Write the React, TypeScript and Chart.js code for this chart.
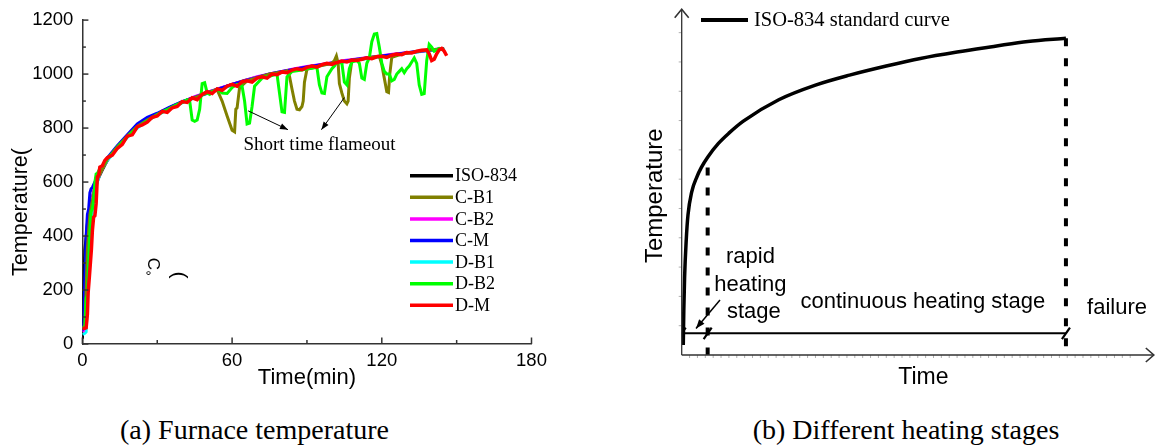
import { useEffect, useRef } from "react";
import { Chart, registerables } from "chart.js";

Chart.register(...registerables);

const SANS = "'Liberation Sans', Arial, sans-serif";
const SERIF = "'Liberation Serif', 'Times New Roman', serif";

// ---------------- panel (a): furnace temperature ----------------
const X_MAX = 180;
const X_STEP = 60;
const X_MINOR = 30;
const Y_MAX = 1200;
const Y_STEP = 200;
const Y_MINOR = 100;

const isoTime = [0, 1, 2, 3, 4, 5, 6, 7, 8, 9, 10, 12, 14, 16, 18, 20, 25, 30, 35, 40, 45, 50, 55, 60, 65, 70, 75, 80, 85, 90, 95, 100, 105, 110, 115, 120, 125, 130, 135, 140, 145];
const isoTemp = [20, 349, 445, 502, 544, 576, 603, 626, 645, 663, 680, 708, 732, 752, 771, 788, 825, 852, 876, 897, 915, 932, 946, 962, 976, 988, 999, 1008, 1017, 1025, 1033, 1040, 1047, 1053, 1060, 1066, 1072, 1078, 1084, 1089, 1094];

const midTime = [0, 0.5, 1, 1.5, 2, 2.5, 3, 3.5, 4, 5, 6, 7, 8, 10, 14, 18, 22, 26, 30, 35, 40, 45, 50, 55, 60, 65, 70, 75, 80, 85, 90, 95, 100, 105, 110, 115, 120, 125, 130, 135, 140, 145];
const cmTemp = [50, 80, 250, 400, 480, 500, 560, 575, 580, 600, 615, 640, 655, 690, 735, 775, 815, 840, 855, 878, 898, 914, 930, 946, 962, 975, 988, 1000, 1010, 1018, 1026, 1034, 1041, 1048, 1055, 1061, 1067, 1073, 1079, 1085, 1090, 1094];
const cb2Temp = [45, 50, 100, 200, 300, 380, 450, 500, 540, 590, 610, 630, 650, 685, 730, 772, 808, 830, 852, 874, 896, 916, 932, 948, 962, 976, 990, 1000, 1010, 1020, 1028, 1035, 1042, 1050, 1056, 1062, 1068, 1074, 1079, 1084, 1090, 1093];
const db1Temp = [35, 38, 40, 45, 150, 300, 400, 450, 480, 560, 600, 630, 650, 680, 725, 765, 800, 828, 848, 872, 893, 912, 928, 944, 958, 972, 985, 997, 1006, 1015, 1024, 1032, 1039, 1046, 1052, 1059, 1065, 1071, 1077, 1083, 1088, 1092];

const cb1Time = [0, 1, 1.5, 2, 2.5, 3, 4, 5, 6, 7, 8, 10, 14, 18, 22, 26, 30, 35, 40, 45, 50, 54, 56, 58, 60, 61, 61.5, 62, 63, 66, 70, 75, 80, 82, 83, 84, 85, 86, 87, 88, 88.5, 89, 90, 95, 100, 101, 101.8, 102.5, 103, 104, 105, 106, 106.5, 107, 108, 112, 116, 119, 120, 121, 122, 122.7, 123.2, 124, 128, 132, 136, 140, 145];
const cb1Temp = [55, 70, 200, 350, 420, 480, 530, 580, 610, 630, 648, 685, 730, 770, 806, 830, 850, 873, 895, 913, 930, 942, 900, 845, 792, 786, 870, 875, 950, 975, 987, 1000, 1008, 1012, 992, 945, 900, 870, 868, 880, 900, 970, 1018, 1030, 1040, 1050, 1067, 1040, 965, 930, 900, 890, 900, 985, 1050, 1056, 1062, 1066, 1035, 985, 935, 932, 1000, 1062, 1074, 1080, 1086, 1090, 1094];

const db2Time = [0, 1, 1.5, 2, 2.5, 3, 3.5, 4, 4.5, 5, 5.5, 6, 7, 8, 9, 10, 12, 14, 16, 18, 20, 22, 24, 26, 28, 30, 32, 34, 36, 38, 40, 42, 43, 44, 45, 46, 47, 48, 49, 50, 51, 52, 54, 56, 58, 60, 62, 63, 64, 65, 66, 67, 68, 69, 70, 72, 74, 76, 78, 79, 80, 81, 82, 84, 86, 88, 90, 92, 94, 95, 96, 97, 98, 100, 101, 102, 104, 105, 106, 107, 108, 110, 111, 112, 113, 114, 115, 116, 117, 118, 119, 120, 121, 122, 123, 124, 125, 126, 127, 128, 129, 130, 131, 132, 133, 134, 135, 136, 137, 138, 139, 140, 141, 142, 143, 144, 145];
const db2Temp = [60, 65, 170, 180, 300, 420, 490, 500, 530, 600, 630, 632, 650, 660, 672, 688, 705, 730, 748, 768, 785, 805, 815, 828, 838, 850, 860, 868, 878, 888, 895, 905, 900, 830, 825, 830, 870, 965, 968, 930, 925, 935, 945, 930, 928, 950, 962, 958, 955, 900, 815, 818, 880, 955, 965, 985, 990, 995, 1000, 930, 860, 858, 990, 1010, 1012, 1015, 1020, 1022, 1025, 960, 930, 928, 990, 1020, 1030, 1045, 1040, 970, 960, 1020, 1045, 1050, 1040, 985, 980, 1040, 1060, 1120, 1148, 1150, 1100, 1040, 1010, 1000, 1000, 975, 980, 1000, 1010, 1020, 1005, 1020, 1030, 1045, 1060, 1040, 960, 925, 928, 1050, 1110, 1100, 1085, 1090, 1095, 1092, 1090];

const dmTime = [0, 1, 1.5, 2, 2.3, 2.8, 3.2, 3.6, 4, 4.5, 5, 5.5, 6, 6.5, 7, 8, 9, 10, 12, 14, 16, 18, 20, 22, 24, 26, 28, 30, 32, 34, 36, 38, 40, 42, 44, 46, 48, 50, 52, 54, 56, 58, 60, 62, 64, 66, 68, 70, 72, 74, 76, 78, 80, 82, 84, 86, 88, 90, 92, 94, 96, 98, 100, 102, 104, 106, 108, 110, 112, 114, 116, 118, 120, 122, 124, 126, 128, 130, 132, 134, 136, 138, 139, 140, 141, 142, 143, 144, 145, 146];
const dmTemp = [58, 58, 60, 110, 190, 250, 300, 350, 420, 470, 475, 520, 620, 625, 655, 660, 680, 690, 700, 725, 740, 770, 775, 805, 812, 822, 840, 845, 862, 858, 875, 880, 898, 895, 912, 905, 925, 935, 928, 945, 940, 955, 962, 955, 972, 975, 970, 985, 990, 985, 1000, 998, 1008, 1005, 1015, 1020, 1016, 1025, 1030, 1026, 1035, 1040, 1036, 1043, 1048, 1045, 1052, 1050, 1055, 1060, 1057, 1064, 1066, 1062, 1070, 1074, 1072, 1080, 1078, 1085, 1088, 1090, 1075, 1050, 1055, 1075, 1090, 1095, 1085, 1068];

const seriesNames = ["ISO-834", "C-B1", "C-B2", "C-M", "D-B1", "D-B2", "D-M"];
const seriesColors = ["#000000", "#808000", "#ff00ff", "#0000ff", "#00ffff", "#00ff00", "#ff0000"];

// annotation anchors (data units)
const flameoutText = { t: 95, T: 738 };
const flameoutFrom = [[66.4, 864], [105, 913]];
const flameoutTo = [[82.4, 794], [95.8, 794]];

// ---------------- panel (b): heating stages ----------------
const stdTime = [0.6, 0.8, 1.1, 1.7, 2.4, 3.8, 5.8, 7.5, 9.9, 14, 18, 23.5, 37, 51, 64, 78, 91, 105, 119, 132, 146.5];
const stdTemp = [34, 150, 264, 388, 478, 556, 608, 640, 675, 722, 757, 798, 871, 921, 955, 986, 1012, 1034, 1053, 1070, 1081];
const stageBounds = [0, 9.9, 146.5];
const dividerTime = [9.9, 146.5];
const dividerTop = [640, 1081];
const stageLevel = 74;

const pts = (t: number[], v: number[]) => t.map((x, i) => ({ x, y: v[i] }));

function arrow(ctx: CanvasRenderingContext2D, x1: number, y1: number, x2: number, y2: number, head = 8, half = 3) {
  ctx.beginPath();
  ctx.moveTo(x1, y1);
  ctx.lineTo(x2, y2);
  ctx.stroke();
  const a = Math.atan2(y2 - y1, x2 - x1);
  const bx = x2 - head * Math.cos(a);
  const by = y2 - head * Math.sin(a);
  ctx.beginPath();
  ctx.moveTo(x2, y2);
  ctx.lineTo(bx + half * Math.sin(a), by - half * Math.cos(a));
  ctx.lineTo(bx - half * Math.sin(a), by + half * Math.cos(a));
  ctx.closePath();
  ctx.fill();
}

function FurnaceChart() {
  const ref = useRef<HTMLCanvasElement>(null);
  useEffect(() => {
    const data = [
      pts(isoTime, isoTemp),
      pts(cb1Time, cb1Temp),
      pts(midTime, cb2Temp),
      pts(midTime, cmTemp),
      pts(midTime, db1Temp),
      pts(db2Time, db2Temp),
      pts(dmTime, dmTemp),
    ];
    const orders = [7, 3, 5, 4, 6, 2, 1];
    const decor = {
      id: "furnaceDecor",
      afterDraw(chart: any) {
        const { ctx, scales } = chart;
        const x = scales.x;
        const y = scales.y;
        ctx.save();
        // inward ticks
        ctx.strokeStyle = "#333";
        ctx.lineWidth = 1.5;
        for (let v = 0; v <= X_MAX; v += X_MINOR) {
          const px = x.getPixelForValue(v);
          const len = v % X_STEP === 0 ? 6.5 : 4;
          ctx.beginPath();
          ctx.moveTo(px, y.bottom);
          ctx.lineTo(px, y.bottom - len);
          ctx.stroke();
        }
        for (let v = 0; v <= Y_MAX; v += Y_MINOR) {
          const py = y.getPixelForValue(v);
          const len = v % Y_STEP === 0 ? 6 : 3.5;
          ctx.beginPath();
          ctx.moveTo(x.left, py);
          ctx.lineTo(x.left + len, py);
          ctx.stroke();
        }
        // y title (broken apart in the source figure)
        ctx.fillStyle = "#000";
        ctx.font = `21.5px ${SANS}`;
        ctx.textAlign = "center";
        ctx.textBaseline = "middle";
        ctx.save();
        ctx.translate(21.5, 212);
        ctx.rotate(-Math.PI / 2);
        ctx.fillText("Temperature(", 0, 0);
        ctx.restore();
        ctx.font = `15px ${SANS}`;
        ctx.fillText("°", 148.5, 277);
        ctx.save();
        ctx.font = `17px ${SANS}`;
        ctx.translate(153, 264);
        ctx.rotate(Math.PI / 2);
        ctx.fillText("C", 0, 0);
        ctx.restore();
        ctx.save();
        ctx.font = `21px ${SANS}`;
        ctx.translate(178.5, 275);
        ctx.rotate(-Math.PI / 2);
        ctx.fillText(")", 0, 0);
        ctx.restore();
        // legend
        const ds = chart.data.datasets;
        ctx.font = `18px ${SERIF}`;
        ctx.textAlign = "left";
        ds.forEach((d: any, i: number) => {
          const yy = 175.7 + i * 21.6;
          ctx.strokeStyle = d.borderColor;
          ctx.lineWidth = 3.5;
          ctx.beginPath();
          ctx.moveTo(410, yy);
          ctx.lineTo(453, yy);
          ctx.stroke();
          ctx.fillStyle = "#000";
          ctx.fillText(d.label, 455, yy + 1);
        });
        // annotation
        ctx.font = `19px ${SERIF}`;
        ctx.textAlign = "center";
        ctx.fillText("Short time flameout", x.getPixelForValue(flameoutText.t), y.getPixelForValue(flameoutText.T));
        ctx.strokeStyle = "#000";
        ctx.fillStyle = "#000";
        ctx.lineWidth = 1;
        flameoutFrom.forEach((f, i) => {
          const to = flameoutTo[i];
          arrow(ctx, x.getPixelForValue(f[0]), y.getPixelForValue(f[1]), x.getPixelForValue(to[0]), y.getPixelForValue(to[1]), 8, 3);
        });
        ctx.restore();
      },
    };
    const chart = new Chart(ref.current as HTMLCanvasElement, {
      type: "line",
      data: {
        datasets: data.map((d, i) => ({
          label: seriesNames[i],
          data: d,
          borderColor: seriesColors[i],
          backgroundColor: seriesColors[i],
          borderWidth: i === 6 ? 3.5 : 3,
          pointRadius: 0,
          tension: 0,
          fill: false,
          order: orders[i],
        })),
      },
      options: {
        responsive: false,
        maintainAspectRatio: false,
        animation: false,
        devicePixelRatio: 1,
        events: [],
        layout: { padding: { left: 0, right: 28.5, top: 19, bottom: 0 } },
        plugins: { legend: { display: false }, tooltip: { enabled: false } },
        scales: {
          x: {
            type: "linear",
            min: 0,
            max: X_MAX,
            grid: { display: false, drawTicks: false },
            border: { display: true, color: "#333", width: 1.5 },
            ticks: { stepSize: X_STEP, color: "#000", font: { family: SANS, size: 18.5 }, padding: 6, maxRotation: 0, autoSkip: false, callback: (v: any) => String(v) },
            title: { display: true, text: "Time(min)", color: "#000", font: { family: SANS, size: 22 }, padding: { top: 0, bottom: 8.8 } },
            afterFit: (s: any) => { s.height = 56; },
          },
          y: {
            type: "linear",
            min: 0,
            max: Y_MAX,
            grid: { display: false, drawTicks: false },
            border: { display: true, color: "#333", width: 1.5 },
            ticks: { stepSize: Y_STEP, color: "#000", font: { family: SANS, size: 18.5 }, padding: 9, callback: (v: any) => String(v) },
            afterFit: (s: any) => { s.width = 82.4; },
          },
        },
      } as any,
      plugins: [decor],
    });
    return () => chart.destroy();
  }, []);
  return <canvas ref={ref} width={560} height={400} style={{ position: "absolute", left: 0, top: 0 }} />;
}

function StagesChart() {
  const ref = useRef<HTMLCanvasElement>(null);
  useEffect(() => {
    const decor = {
      id: "stagesDecor",
      afterDraw(chart: any) {
        const { ctx, chartArea } = chart;
        const { left, right, top, bottom } = chartArea;
        ctx.save();
        // faint minor ticks
        ctx.strokeStyle = "#b0b0b0";
        ctx.lineWidth = 1;
        const xs = chart.scales.x;
        const ys = chart.scales.y;
        for (let v = 3; v < 174; v += 3) {
          const px = xs.getPixelForValue(v);
          ctx.beginPath();
          ctx.moveTo(px, bottom);
          ctx.lineTo(px, bottom + 3);
          ctx.stroke();
        }
        for (let v = 100; v < 1150; v += 100) {
          const py = ys.getPixelForValue(v);
          ctx.beginPath();
          ctx.moveTo(left, py);
          ctx.lineTo(left - 3, py);
          ctx.stroke();
        }
        // axes with arrows
        ctx.strokeStyle = "#333";
        ctx.lineWidth = 1.3;
        ctx.beginPath();
        ctx.moveTo(left, bottom);
        ctx.lineTo(left, top);
        ctx.moveTo(left, bottom);
        ctx.lineTo(right, bottom);
        ctx.stroke();
        ctx.lineWidth = 1.6;
        ctx.beginPath();
        ctx.moveTo(left - 7, top + 8.5);
        ctx.lineTo(left, top);
        ctx.lineTo(left + 7, top + 8.5);
        ctx.moveTo(right - 8, bottom - 7);
        ctx.lineTo(right, bottom);
        ctx.lineTo(right - 8, bottom + 7);
        ctx.stroke();
        // legend
        const d0 = chart.data.datasets[0];
        ctx.strokeStyle = d0.borderColor;
        ctx.lineWidth = 4;
        ctx.beginPath();
        ctx.moveTo(101, 20);
        ctx.lineTo(148, 20);
        ctx.stroke();
        ctx.fillStyle = "#000";
        ctx.font = `20.5px ${SERIF}`;
        ctx.textAlign = "left";
        ctx.textBaseline = "middle";
        ctx.fillText(d0.label, 154, 21);
        // texts
        ctx.textAlign = "center";
        ctx.font = `22px ${SANS}`;
        ctx.fillText("rapid", 150.5, 257);
        ctx.fillText("heating", 150.4, 285);
        ctx.fillText("stage", 153.8, 312);
        ctx.fillText("continuous heating stage", 322.8, 302);
        ctx.fillText("failure", 517, 308);
        ctx.font = `23px ${SANS}`;
        ctx.fillText("Time", 323.4, 378);
        ctx.save();
        ctx.font = `24px ${SANS}`;
        ctx.translate(55.8, 195.7);
        ctx.rotate(-Math.PI / 2);
        ctx.fillText("Temperature", 0, 0);
        ctx.restore();
        // arrow to the rapid heating stage
        ctx.strokeStyle = "#000";
        ctx.lineWidth = 1.5;
        arrow(ctx, 120, 300, 96, 328.5, 9, 3.5);
        ctx.restore();
      },
    };
    const chart = new Chart(ref.current as HTMLCanvasElement, {
      type: "line",
      data: {
        datasets: [
          { label: "ISO-834 standard curve", data: pts(stdTime, stdTemp), borderColor: "#000", borderWidth: 3.5, pointRadius: 0, cubicInterpolationMode: "monotone", fill: false },
          ...dividerTime.map((t, i) => ({
            label: "divider",
            data: [{ x: t, y: dividerTop[i] }, { x: t, y: 0 }],
            borderColor: "#000",
            borderWidth: 4,
            borderDash: [8, 12],
            pointRadius: 0,
            fill: false,
          })),
          { label: "stages", data: [{ x: stageBounds[0], y: stageLevel }, { x: stageBounds[stageBounds.length - 1], y: stageLevel }], borderColor: "#000", borderWidth: 2, pointRadius: 0, fill: false },
          {
            label: "marks",
            data: stageBounds.map((t) => ({ x: t, y: stageLevel })),
            showLine: false,
            pointStyle: "line",
            pointRadius: 7,
            pointRotation: -55,
            pointBorderWidth: 2.2,
            pointBorderColor: "#000",
            borderColor: "#000",
          },
        ],
      },
      options: {
        responsive: false,
        maintainAspectRatio: false,
        animation: false,
        devicePixelRatio: 1,
        events: [],
        layout: { padding: { left: 81.7, right: 5, top: 5, bottom: 45 } },
        plugins: { legend: { display: false }, tooltip: { enabled: false } },
        scales: {
          x: { type: "linear", display: false, min: 0, max: 180 },
          y: { type: "linear", display: false, min: 0, max: 1180 },
        },
      } as any,
      plugins: [decor],
    });
    return () => chart.destroy();
  }, []);
  return <canvas ref={ref} width={563} height={400} style={{ position: "absolute", left: 600, top: 0 }} />;
}

const caption = (cx: number): any => ({
  position: "absolute",
  left: cx,
  top: 430,
  transform: "translate(-50%, -50%)",
  whiteSpace: "nowrap",
  fontFamily: SERIF,
  fontSize: 28,
  lineHeight: 1,
  color: "#000",
});

export default function App() {
  return (
    <div style={{ position: "absolute", left: 0, top: 0, width: 1163, height: 445, background: "#fff", overflow: "hidden" }}>
      <FurnaceChart />
      <StagesChart />
      <div style={caption(254.5)}>(a) Furnace temperature</div>
      <div style={caption(906)}>(b) Different heating stages</div>
    </div>
  );
}
